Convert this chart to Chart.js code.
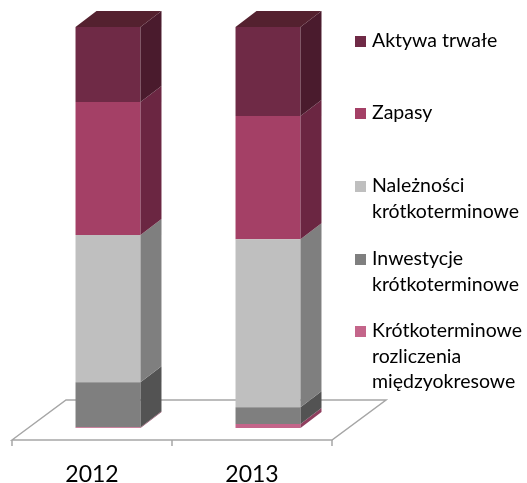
<!DOCTYPE html>
<html>
<head>
<meta charset="utf-8">
<script src="https://cdn.jsdelivr.net/npm/chart.js@4"></script>
<style>
  body { margin: 0; background: #fff; }
  #wrap { position: relative; width: 527px; height: 483px; }
  #legend { position: absolute; left: 355px; top: 0; font-family: Lato, sans-serif; font-size: 19.5px; color: #000; }
  .item { position: absolute; left: 0; white-space: nowrap; line-height: 25.5px; }
  .box { position: absolute; left: 0; width: 11px; height: 11px; }
  .txt { position: absolute; left: 17px; }
</style>
</head>
<body>
<div id="wrap">
  <canvas id="chart" width="527" height="483"></canvas>
  <div id="legend"></div>
</div>
<script>
// categories and values (% of total assets), bottom of the stack first
const years = ['2012', '2013'];
const rozliczenia = [0.2, 1.0];
const inwestycje = [11.2, 4.2];
const naleznosci = [36.7, 41.9];
const zapasy = [33.2, 30.7];
const aktywaTrwale = [18.7, 22.2];

const series = [
    { label: ['Krótkoterminowe', 'rozliczenia', 'międzyokresowe'], data: rozliczenia, front: '#C4658A', side: '#8F3F5F', top: '#A8506F' },
    { label: ['Inwestycje', 'krótkoterminowe'], data: inwestycje, front: '#7F7F7F', side: '#535353', top: '#666666' },
    { label: ['Należności', 'krótkoterminowe'], data: naleznosci, front: '#BFBFBF', side: '#7F7F7F', top: '#9A9A9A' },
    { label: ['Zapasy'], data: zapasy, front: '#A44066', side: '#6B2642', top: '#82304F' },
    { label: ['Aktywa trwałe'], data: aktywaTrwale, front: '#6F2A46', side: '#4A1B2D', top: '#54212F' }
];

// 3D depth of the bars and of the floor
const DX = 21, DY = -16;

const threeD = {
    id: 'threeD',
    beforeDatasetsDraw(chart) {
        const ctx = chart.ctx;
        const a = chart.chartArea;
        const y0 = chart.scales.y.getPixelForValue(0);
        const fl = { x: a.left - 16, y: y0 + 12 };
        const fr = { x: a.right - 16, y: y0 + 12 };
        const bl = { x: a.left + 38, y: y0 - 28 };
        const br = { x: a.right + 38, y: y0 - 28 };
        ctx.save();
        ctx.strokeStyle = '#A6A6A6';
        ctx.lineWidth = 1.5;
        ctx.beginPath();
        ctx.moveTo(fl.x, fl.y);
        ctx.lineTo(bl.x, bl.y);
        ctx.lineTo(br.x, br.y);
        ctx.lineTo(fr.x, fr.y);
        ctx.closePath();
        ctx.stroke();
        // tick marks on the front edge
        const n = chart.data.labels.length;
        ctx.beginPath();
        for (let i = 0; i <= n; i++) {
            const x = fl.x + (fr.x - fl.x) * i / n;
            ctx.moveTo(x, fl.y);
            ctx.lineTo(x, fl.y + 6);
        }
        ctx.stroke();
        // category labels
        ctx.fillStyle = '#000';
        ctx.font = '23px Lato, sans-serif';
        ctx.textAlign = 'center';
        ctx.textBaseline = 'alphabetic';
        chart.data.labels.forEach((lab, i) => {
            const x = chart.scales.x.getPixelForValue(i) - 16;
            ctx.fillText(lab, x, 482);
        });
        ctx.restore();
    },
    afterDatasetsDraw(chart) {
        const ctx = chart.ctx;
        const last = chart.data.datasets.length - 1;
        ctx.save();
        chart.data.datasets.forEach((ds, di) => {
            const meta = chart.getDatasetMeta(di);
            meta.data.forEach(bar => {
                const p = bar.getProps(['x', 'y', 'base', 'width'], true);
                const l = p.x - p.width / 2, r = p.x + p.width / 2;
                const t = p.y, b = p.base;
                ctx.fillStyle = ds.sideColor;
                ctx.beginPath();
                ctx.moveTo(r, t);
                ctx.lineTo(r + DX, t + DY);
                ctx.lineTo(r + DX, b + DY);
                ctx.lineTo(r, b);
                ctx.closePath();
                ctx.fill();
                if (di === last) {
                    ctx.fillStyle = ds.topColor;
                    ctx.beginPath();
                    ctx.moveTo(l, t);
                    ctx.lineTo(l + DX, t + DY);
                    ctx.lineTo(r + DX, t + DY);
                    ctx.lineTo(r, t);
                    ctx.closePath();
                    ctx.fill();
                }
            });
        });
        ctx.restore();
    }
};

new Chart(document.getElementById('chart'), {
    type: 'bar',
    data: {
        labels: years,
        datasets: series.map(s => ({
            label: s.label.join(' '),
            data: s.data,
            backgroundColor: s.front,
            sideColor: s.side,
            topColor: s.top,
            borderWidth: 0,
            barPercentage: 0.406,
            categoryPercentage: 1
        }))
    },
    options: {
        responsive: false,
        animation: false,
        layout: { padding: { left: 28, right: 179, top: 27, bottom: 55 } },
        scales: {
            x: { stacked: true, display: false },
            y: { stacked: true, display: false, min: 0, max: 100 }
        },
        plugins: {
            legend: { display: false },
            tooltip: { enabled: false }
        }
    },
    plugins: [threeD]
});

// legend on the right, top entry first
const legendTops = [27, 99, 172, 245, 317];
const legendEl = document.getElementById('legend');
series.slice().reverse().forEach((s, i) => {
    const item = document.createElement('div');
    item.className = 'item';
    item.style.top = legendTops[i] + 'px';
    const box = document.createElement('div');
    box.className = 'box';
    box.style.top = '9px';
    box.style.background = s.front;
    const txt = document.createElement('div');
    txt.className = 'txt';
    txt.innerHTML = s.label.join('<br>');
    item.appendChild(box);
    item.appendChild(txt);
    legendEl.appendChild(item);
});
</script>
</body>
</html>
